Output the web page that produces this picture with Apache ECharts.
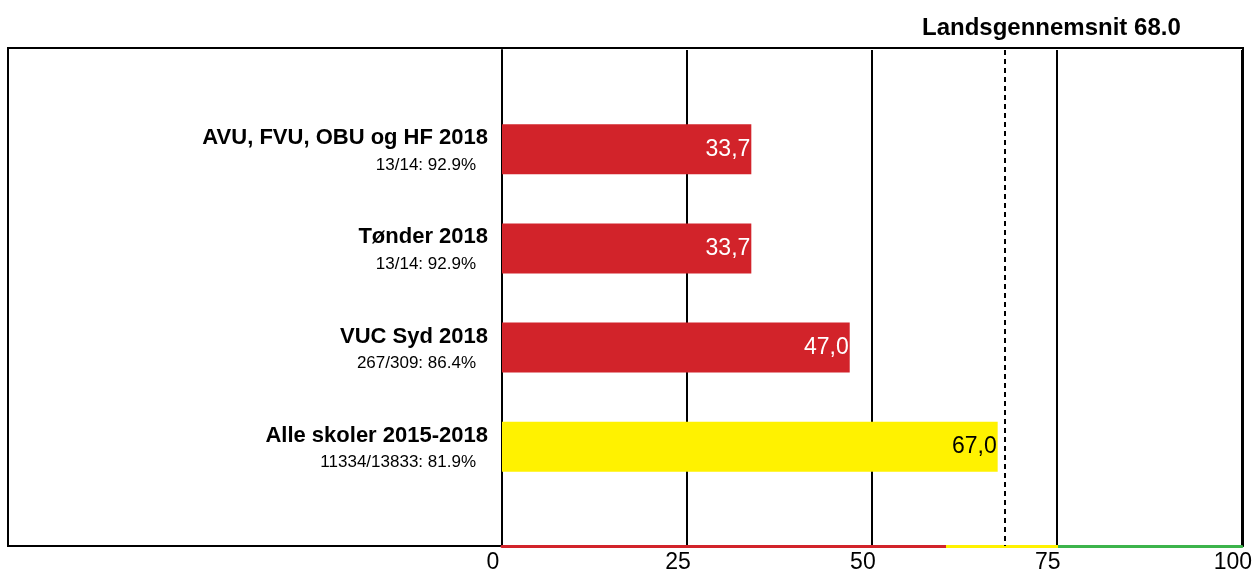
<!DOCTYPE html>
<html>
<head>
<meta charset="utf-8">
<script src="https://cdn.jsdelivr.net/npm/echarts@6/dist/echarts.min.js"></script>
<style>
  html, body { margin: 0; padding: 0; background: #fff; }
  #chart { width: 1255px; height: 576px; }
</style>
</head>
<body>
<div id="chart"></div>
<script>
// categories (blank slots at both ends keep the bars off the frame)
const categories = ['', 'AVU, FVU, OBU og HF 2018', 'Tønder 2018', 'VUC Syd 2018', 'Alle skoler 2015-2018', '']
const subLabels = ['', '13/14: 92.9%', '13/14: 92.9%', '267/309: 86.4%', '11334/13833: 81.9%', '']
const values = [null, 33.7, 33.7, 47.0, 67.0, null]
const barColors = ['', '#d2232a', '#d2232a', '#d2232a', '#fff200', '']
const labelColors = ['', '#fff', '#fff', '#fff', '#000', '']
const average = 68.0
const xTicks = [0, 25, 50, 75, 100]
// colour bands along the value axis: red < 60, yellow < 75, green after
const bandLimits = [60, 75]
const bandColors = ['#d2232a', '#fff200', '#3cb44b']

const chart = echarts.init(document.getElementById('chart'))

const f = v => v.toFixed(1).replace('.', ',')
const xMax = xTicks[xTicks.length - 1]
const stops = []
let from = 0
bandColors.forEach((c, i) => {
  const to = i < bandLimits.length ? bandLimits[i] / xMax : 1
  stops.push({ offset: from, color: c }, { offset: to, color: c })
  from = to
})

chart.setOption({
  backgroundColor: '#fff',
  animation: false,
  textStyle: { fontFamily: 'Liberation Sans, Arial, sans-serif' },
  title: {
    text: 'Landsgennemsnit ' + average.toFixed(1),
    left: 917,
    top: 11,
    textStyle: { fontSize: 24, fontWeight: 'bold', color: '#000' },
  },
  graphic: [
    {
      type: 'rect',
      z: -10,
      shape: { x: 8, y: 48, width: 1235, height: 498 },
      style: { fill: 'none', stroke: '#000', lineWidth: 2 },
    },
  ],
  grid: { left: 502, right: 12, top: 50, bottom: 30 },
  xAxis: {
    type: 'value',
    min: xTicks[0],
    max: xMax,
    interval: 25,
    axisLine: {
      show: true,
      lineStyle: {
        width: 3,
        color: new echarts.graphic.LinearGradient(0, 0, 1, 0, stops),
      },
    },
    axisTick: { show: false },
    axisLabel: {
      color: '#000',
      fontSize: 23,
      margin: 5,
      padding: [0, 18, 0, 0],
    },
    splitLine: { show: true, lineStyle: { color: '#000', width: 2 } },
  },
  yAxis: {
    type: 'category',
    data: categories,
    inverse: true,
    boundaryGap: false,
    axisLine: { show: true, lineStyle: { color: '#000', width: 2 } },
    axisTick: { show: false },
    splitLine: { show: false },
    axisLabel: {
      margin: 14,
      interval: 0,
      formatter: (v, i) => v ? `{a|${v}}\n{b|${subLabels[i]}}` : '',
      rich: {
        a: { fontSize: 22, fontWeight: 'bold', color: '#000', lineHeight: 32, align: 'right' },
        b: { fontSize: 17, color: '#000', lineHeight: 22, align: 'right', padding: [0, 12, 0, 0] },
      },
    },
  },
  series: [
    {
      type: 'bar',
      barWidth: 50,
      data: values.map((v, i) => v === null ? null : {
        value: v,
        itemStyle: { color: barColors[i] },
        label: { color: labelColors[i] },
      }),
      label: {
        show: true,
        position: 'insideRight',
        distance: 1,
        fontSize: 23,
        formatter: p => f(p.value),
      },
      markLine: {
        silent: true,
        symbol: 'none',
        label: { show: false },
        lineStyle: { color: '#000', width: 2, type: [5, 4] },
        data: [{ xAxis: average }],
      },
    },
  ],
})
</script>
</body>
</html>
